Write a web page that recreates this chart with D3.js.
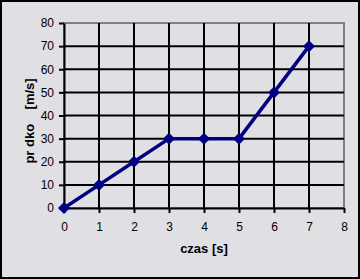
<!DOCTYPE html>
<html>
<head>
<meta charset="utf-8">
<script src="https://cdn.jsdelivr.net/npm/d3@7"></script>
<style>
  body { margin: 0; background: #e0dfe3; }
  svg { display: block; }
</style>
</head>
<body>
<div id="container"></div>
<script>
var times = [0, 1, 2, 3, 4, 5, 6, 7];
var speeds = [0, 10, 20, 30, 30, 30, 50, 70];
var xTicks = [0, 1, 2, 3, 4, 5, 6, 7, 8];
var yTicks = [0, 10, 20, 30, 40, 50, 60, 70, 80];

var W = 360, H = 279;
var margin = { top: 23, left: 64, right: 16, bottom: 71 };
var width = W - margin.left - margin.right,
    height = H - margin.top - margin.bottom;

var x = d3.scaleLinear().domain([0, 8]).range([0, width]),
    y = d3.scaleLinear().domain([0, 80]).range([height, 0]);

var svg = d3.select("#container").append("svg")
    .attr("width", W)
    .attr("height", H);

svg.append("rect")
    .attr("x", 1).attr("y", 1)
    .attr("width", W - 2).attr("height", H - 2)
    .attr("fill", "#e0dfe3")
    .attr("stroke", "#000")
    .attr("stroke-width", 2);

var graph = svg.append("g")
    .attr("transform", "translate(" + margin.left + "," + margin.top + ")");

// plot area border (top/right gray)
graph.append("rect")
    .attr("width", width).attr("height", height)
    .attr("fill", "none")
    .attr("stroke", "#808080")
    .attr("stroke-width", 2);

// gridlines
graph.selectAll(".hgrid")
    .data(yTicks.filter(function(d) { return d > 0 && d < 80; }))
    .enter().append("line")
    .attr("x1", 0).attr("x2", width)
    .attr("y1", function(d) { return y(d); })
    .attr("y2", function(d) { return y(d); })
    .attr("stroke", "#000").attr("stroke-width", 2);

graph.selectAll(".vgrid")
    .data(xTicks.filter(function(d) { return d > 0 && d < 8; }))
    .enter().append("line")
    .attr("y1", 0).attr("y2", height)
    .attr("x1", function(d) { return x(d); })
    .attr("x2", function(d) { return x(d); })
    .attr("stroke", "#000").attr("stroke-width", 2);

var xAxis = graph.append("g")
    .attr("transform", "translate(0," + height + ")")
    .call(d3.axisBottom(x).tickValues(xTicks).tickSize(5).tickPadding(9).tickSizeOuter(0));

var yAxis = graph.append("g")
    .call(d3.axisLeft(y).tickValues(yTicks).tickSize(5).tickPadding(5).tickSizeOuter(0));

[xAxis, yAxis].forEach(function(a) {
    a.select(".domain").attr("stroke", "#000").attr("stroke-width", 2);
    a.selectAll(".tick line").attr("stroke", "#000").attr("stroke-width", 2);
    a.selectAll(".tick text")
        .attr("fill", "#000")
        .style("font-family", "Liberation Sans, Arial, sans-serif")
        .style("font-size", "12px");
});

var line = d3.line()
    .x(function(d, i) { return x(times[i]); })
    .y(function(d) { return y(d); });

graph.append("path")
    .datum(speeds)
    .attr("fill", "none")
    .attr("stroke", "#000080")
    .attr("stroke-width", 3.5)
    .attr("d", line);

graph.selectAll(".pt")
    .data(speeds)
    .enter().append("path")
    .attr("transform", function(d, i) { return "translate(" + x(times[i]) + "," + y(d) + ")"; })
    .attr("d", "M0,-6L6,0L0,6L-6,0Z")
    .attr("fill", "#000080");

svg.append("text")
    .attr("x", margin.left + x(4))
    .attr("y", 253)
    .attr("text-anchor", "middle")
    .style("font-family", "Liberation Sans, Arial, sans-serif")
    .style("font-size", "13px")
    .style("font-weight", "bold")
    .text("czas [s]");

svg.append("text")
    .attr("transform", "translate(34,121) rotate(-90)")
    .attr("text-anchor", "middle")
    .attr("xml:space", "preserve")
    .style("white-space", "pre")
    .style("font-family", "Liberation Sans, Arial, sans-serif")
    .style("font-size", "13px")
    .style("font-weight", "bold")
    .text("pr dko    [m/s]");
</script>
</body>
</html>
